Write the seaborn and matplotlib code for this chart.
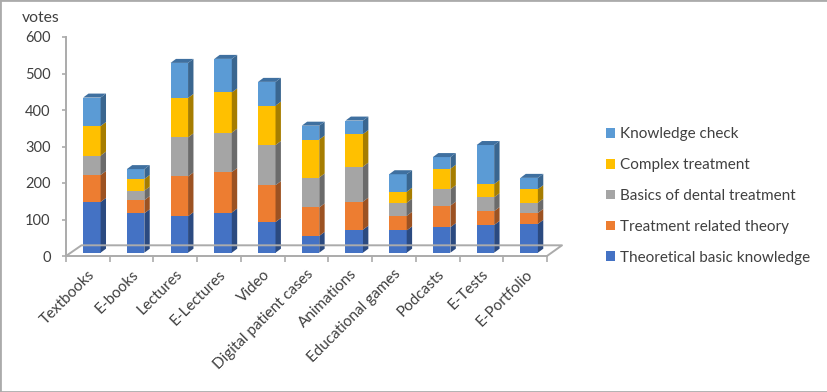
import matplotlib
matplotlib.use("Agg")
import matplotlib.pyplot as plt
import pandas as pd
import seaborn as sns
from matplotlib.lines import Line2D
from matplotlib.patches import Patch, Polygon, Rectangle
from matplotlib.transforms import Affine2D

# Values
categories = ["Textbooks", "E-books", "Lectures", "E-Lectures", "Video",
              "Digital patient cases", "Animations", "Educational games",
              "Podcasts", "E-Tests", "E-Portfolio"]
theoretical = [139, 108, 100, 110, 84, 46, 63, 61, 70, 76, 79]
treatment_theory = [74, 36, 109, 111, 101, 78, 77, 40, 59, 38, 30]
dental_basics = [53, 26, 107, 108, 110, 82, 96, 36, 45, 38, 28]
complex_treatment = [81, 32, 108, 110, 108, 104, 89, 30, 56, 36, 37]
knowledge_check = [78, 27, 96, 92, 65, 38, 37, 48, 32, 107, 31]
series_names = ["Theoretical basic knowledge", "Treatment related theory",
                "Basics of dental treatment", "Complex treatment", "Knowledge check"]
series_values = [theoretical, treatment_theory, dental_basics, complex_treatment, knowledge_check]
front_colors = ["#4472C4", "#ED7D31", "#A5A5A5", "#FFC000", "#5B9BD5"]
side_colors = ["#2B4A80", "#9C5222", "#6B6B6B", "#A67D00", "#3A668F"]
top_color = "#3F70A0"
y_ticks = [0, 100, 200, 300, 400, 500, 600]

text_color = "#404040"
line_color = "#ABABAB"

sns.set_theme(style="white")
plt.rcParams["font.family"] = ["Lato", "DejaVu Sans"]

W, H = 828, 392
fig = plt.figure(figsize=(W / 100, H / 100), dpi=100)
px = Affine2D().scale(1, -1).translate(0, H)  # image pixels, y down


def axes_box(left, right, top, bottom):
    return [left / W, (H - bottom) / H, (right - left) / W, (bottom - top) / H]


# wall and floor axes with the ticks
ax = fig.add_axes(axes_box(66, 547, 37, 256))
ax.set_xlim(-0.5, 10.5)
ax.set_ylim(0, 600)
ax.patch.set_alpha(0)
for s in ["top", "right"]:
    ax.spines[s].set_visible(False)
for s in ["left", "bottom"]:
    ax.spines[s].set_color(line_color)
    ax.spines[s].set_linewidth(1.4)
ax.set_yticks(y_ticks)
ax.tick_params(axis="y", length=3, width=1.2, color=line_color, labelcolor=text_color,
               labelsize=10.5, pad=8, left=True)
ax.set_xticks([i - 0.5 for i in range(len(categories) + 1)])
ax.set_xticklabels([])
ax.tick_params(axis="x", which="major", length=4, width=1.2, color=line_color, bottom=True)
ax.set_xticks(range(len(categories)), minor=True)
ax.set_xticklabels(categories, minor=True, rotation=45, ha="right", rotation_mode="anchor",
                   fontsize=11, color=text_color)
ax.tick_params(axis="x", which="minor", length=0, pad=8)

fig.add_artist(Line2D([66, 81.5, 562, 547], [256, 245.3, 245.3, 256], transform=px,
                      color=line_color, lw=1.4))

# bars sit slightly behind the front edge of the floor
bar_ax = fig.add_axes(axes_box(70, 551, 33.7, 252.7))
bar_ax.set_xlim(-0.5, 10.5)
bar_ax.set_ylim(0, 600)
bar_ax.axis("off")

depth_x = 5.4 * 11 / 481
depth_y = 4.0 * 600 / 219
bottoms = [0] * len(categories)
for name, values, front, side in zip(series_names, series_values, front_colors, side_colors):
    df = pd.DataFrame({"category": categories, "votes": values})
    n_before = len(bar_ax.patches)
    sns.barplot(data=df, x="category", y="votes", color=front, saturation=1, width=0.4,
                bottom=bottoms, ax=bar_ax, linewidth=0, legend=False)
    for bar in list(bar_ax.patches[n_before:]):
        x1 = bar.get_x() + bar.get_width()
        y0, y1 = bar.get_y(), bar.get_y() + bar.get_height()
        bar_ax.add_patch(Polygon([(x1, y0), (x1 + depth_x, y0 + depth_y),
                                  (x1 + depth_x, y1 + depth_y), (x1, y1)],
                                 facecolor=side, edgecolor="none", clip_on=False))
        if name == series_names[-1]:
            x0 = bar.get_x()
            bar_ax.add_patch(Polygon([(x0, y1), (x1, y1), (x1 + depth_x, y1 + depth_y),
                                      (x0 + depth_x, y1 + depth_y)],
                                     facecolor=top_color, edgecolor="none", clip_on=False))
    bottoms = [b + v for b, v in zip(bottoms, values)]
bar_ax.set_xlim(-0.5, 10.5)
bar_ax.set_ylim(0, 600)

fig.text(22 / W, 1 - 18 / H, "votes", fontsize=11.3, color=text_color, va="center", ha="left")

handles = [Patch(facecolor=c, edgecolor="none") for c in reversed(front_colors)]
fig.legend(handles, list(reversed(series_names)), loc="center left",
           bbox_to_anchor=(606 / W, 1 - 196 / H), frameon=False, fontsize=11,
           labelcolor=text_color, handlelength=0.59, handleheight=0.59,
           handletextpad=0.32, labelspacing=1.1, borderpad=0, borderaxespad=0)

# picture border
fig.add_artist(Rectangle((0, 0), 1, 1, transform=fig.transFigure, fill=False,
                         edgecolor=line_color, linewidth=2))

fig.savefig("out.png", dpi=100)
